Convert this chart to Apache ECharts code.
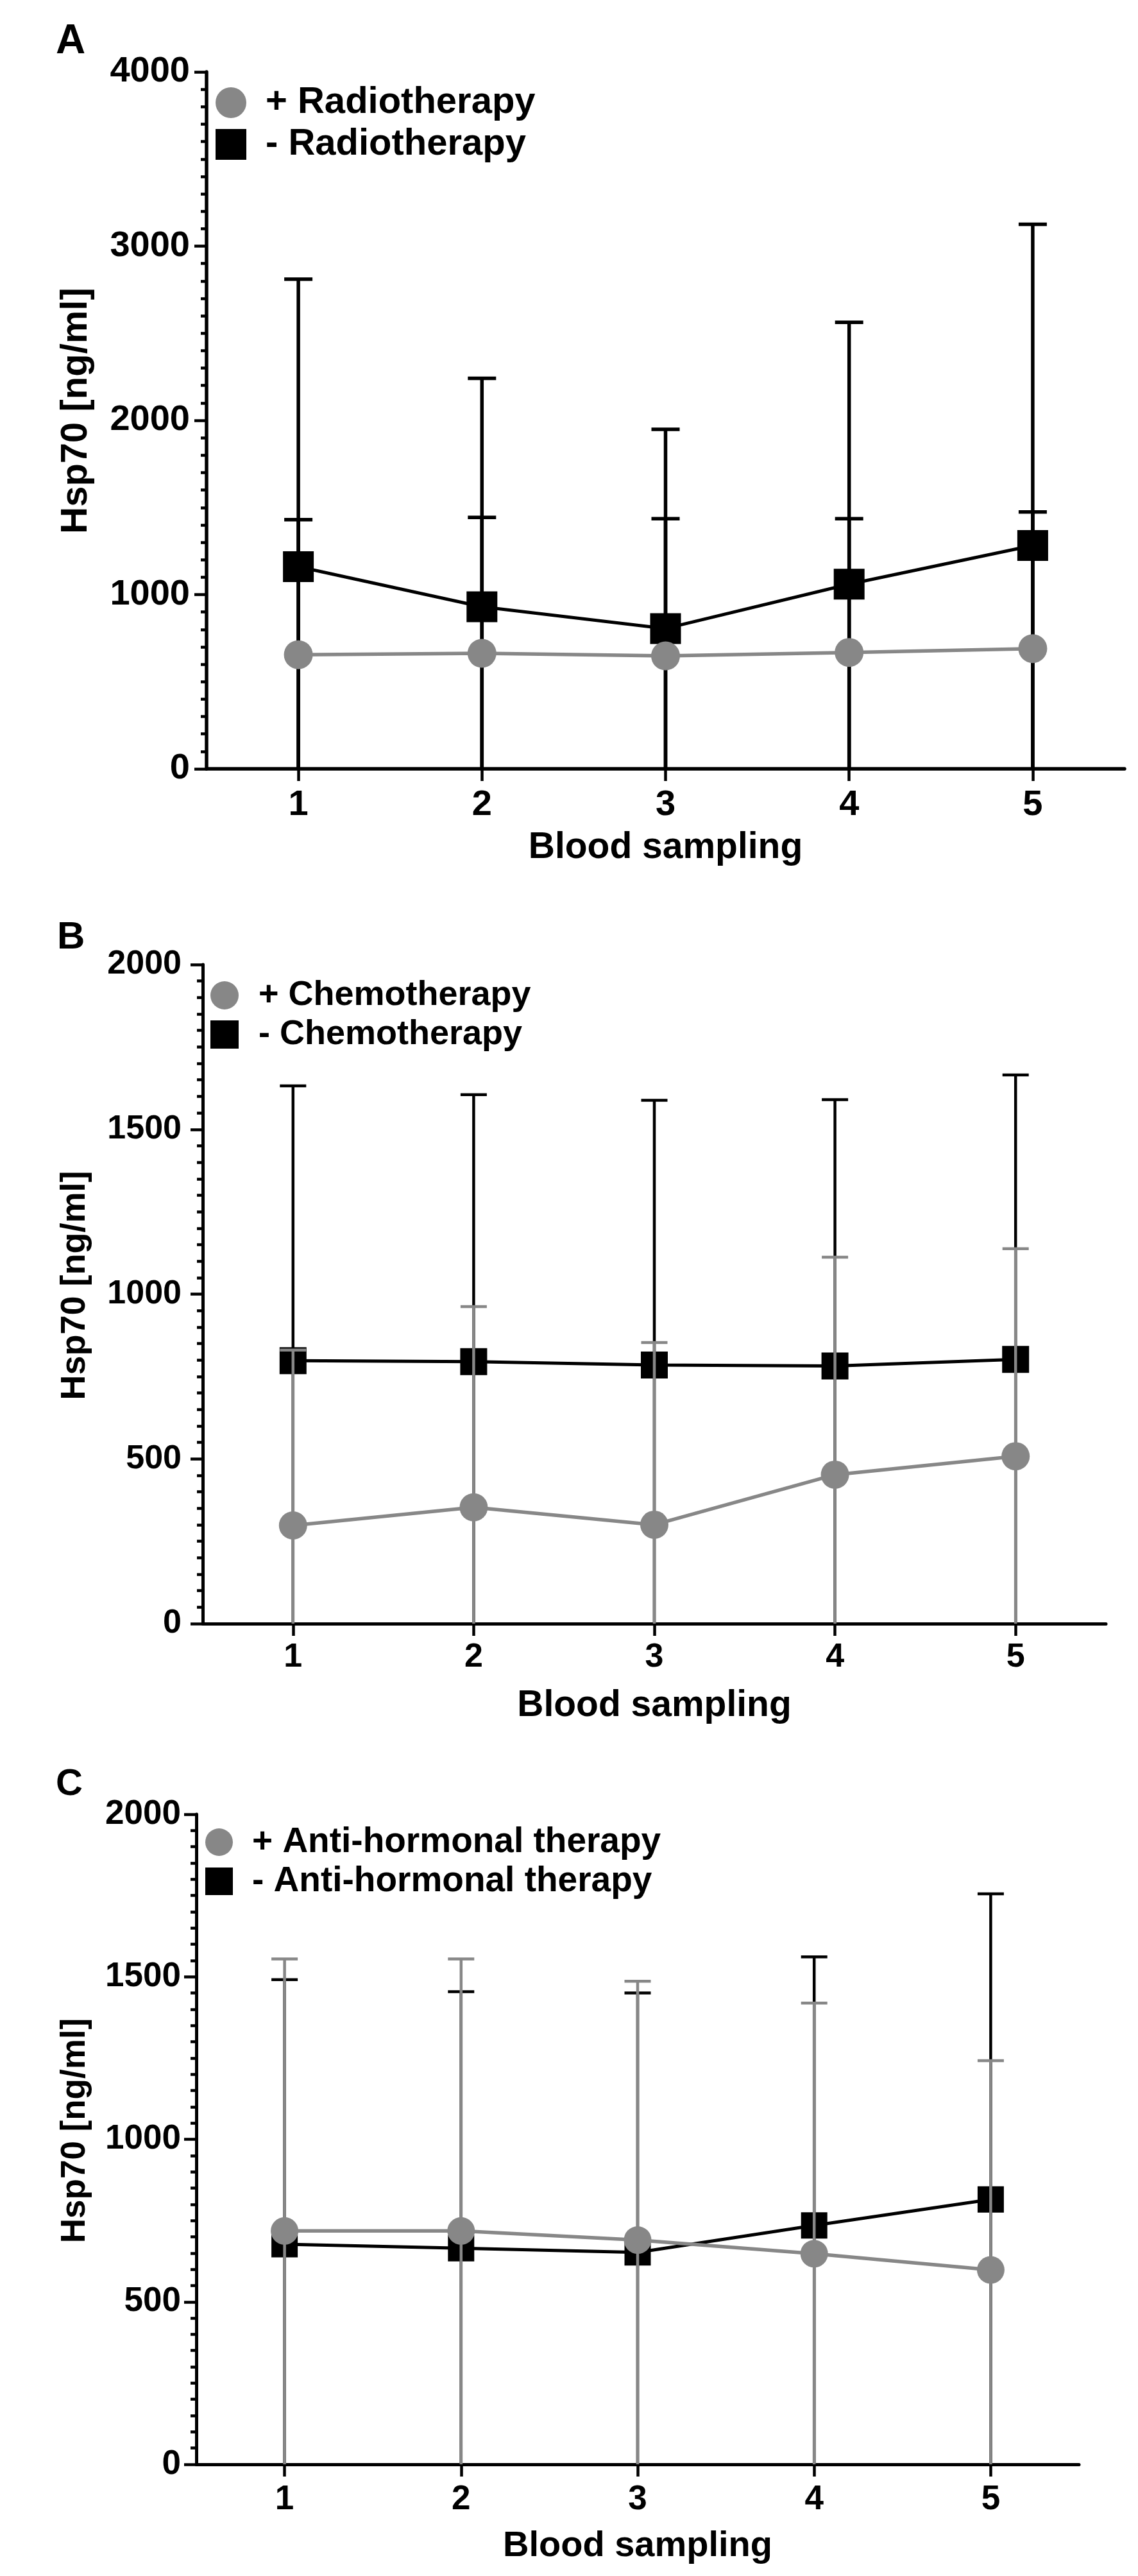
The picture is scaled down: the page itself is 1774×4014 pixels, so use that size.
<!DOCTYPE html>
<html>
<head>
<meta charset="utf-8">
<script src="https://cdn.jsdelivr.net/npm/echarts@6/dist/echarts.min.js"></script>
<style>
html,body{margin:0;padding:0;background:#fff;}
#c{width:1774px;height:4014px;}
</style>
</head>
<body>
<div id="c"></div>
<script>
// ---------------- data ----------------
const categories = ['1', '2', '3', '4', '5'];
const xAxisTitle = 'Blood sampling';
const yAxisTitle = 'Hsp70 [ng/ml]';
const panelLetters = ['A', 'B', 'C'];

const yTicksA = [0, 1000, 2000, 3000, 4000];
const yTicksBC = [0, 500, 1000, 1500, 2000];

// Panel A
const radPlusName = '+ Radiotherapy';
const radMinusName = '- Radiotherapy';
const radPlusMean = [655, 663, 648, 668, 690];
const radPlusSD = [775, 780, 788, 768, 784];
const radMinusMean = [1160, 930, 805, 1060, 1282];
const radMinusSD = [1650, 1311, 1143, 1503, 1843];

// Panel B
const chemoPlusName = '+ Chemotherapy';
const chemoMinusName = '- Chemotherapy';
const chemoPlusMean = [298, 353, 300, 452, 508];
const chemoPlusSD = [532, 609, 553, 660, 630];
const chemoMinusMean = [798, 795, 785, 782, 802];
const chemoMinusSD = [834, 810, 803, 808, 863];

// Panel C
const hormPlusName = '+ Anti-hormonal therapy';
const hormMinusName = '- Anti-hormonal therapy';
const hormPlusMean = [718, 718, 690, 648, 598];
const hormPlusSD = [837, 837, 796, 771, 644];
const hormMinusMean = [677, 665, 652, 735, 815];
const hormMinusSD = [814, 789, 798, 826, 940];

// ---------------- styles / layout ----------------
const FONT = "'Liberation Sans', Arial, Helvetica, sans-serif";
const GRAY = '#878787';
const BLACK = '#000000';

const panels = [
  {
    grid: {left: 322, top: 112, width: 1431, height: 1086},
    yTicks: yTicksA,
    plus: {name: radPlusName, mean: radPlusMean, sd: radPlusSD, barColor: BLACK},
    minus: {name: radMinusName, mean: radMinusMean, sd: radMinusSD},
    circleSize: 45, squareSize: 48, lineW: 5, barW: 5.5, capW: 44,
    axisW: 5.5, tickFont: 56, yLabelMargin: 26, xLabelMargin: 29,
    xNameFont: 57, xNameGap: 95,
    legend: {left: 336, top: 131, item: 48, gap: 7, font: 58, pad: 25},
    letter: {x: 87, y: 65, size: 64},
    yTitle: {x: 119, y: 640, size: 58}
  },
  {
    grid: {left: 316, top: 1503, width: 1408, height: 1027},
    yTicks: yTicksBC,
    plus: {name: chemoPlusName, mean: chemoPlusMean, sd: chemoPlusSD, barColor: GRAY},
    minus: {name: chemoMinusName, mean: chemoMinusMean, sd: chemoMinusSD},
    circleSize: 44, squareSize: 42, lineW: 5, barW: 4.5, capW: 41,
    axisW: 5, tickFont: 52, yLabelMargin: 33, xLabelMargin: 27,
    xNameFont: 57, xNameGap: 100,
    legend: {left: 328, top: 1524, item: 44, gap: 7, font: 54, pad: 26},
    letter: {x: 89, y: 1461, size: 60},
    yTitle: {x: 117, y: 2003, size: 54}
  },
  {
    grid: {left: 306, top: 2827, width: 1376, height: 1013},
    yTicks: yTicksBC,
    plus: {name: hormPlusName, mean: hormPlusMean, sd: hormPlusSD, barColor: GRAY},
    minus: {name: hormMinusName, mean: hormMinusMean, sd: hormMinusSD},
    circleSize: 43, squareSize: 41, lineW: 5, barW: 4.5, capW: 41,
    axisW: 5, tickFont: 53, yLabelMargin: 24, xLabelMargin: 29,
    xNameFont: 56, xNameGap: 100,
    legend: {left: 320, top: 2843, item: 43, gap: 6, font: 55, pad: 25},
    letter: {x: 87, y: 2781, size: 58},
    yTitle: {x: 117, y: 3320, size: 53}
  }
];

function errRender(capW, color, lw, yMin) {
  return function (params, api) {
    const i = api.value(0), m = api.value(1), sd = api.value(2);
    const hi = api.coord([i, m + sd]);
    const lo = api.coord([i, Math.max(yMin, m - sd)]);
    const style = {stroke: color, lineWidth: lw, lineCap: 'butt'};
    const children = [
      {type: 'line', shape: {x1: hi[0], y1: hi[1], x2: lo[0], y2: lo[1]}, style: style},
      {type: 'line', shape: {x1: hi[0] - capW / 2, y1: hi[1], x2: hi[0] + capW / 2, y2: hi[1]}, style: style}
    ];
    if (m - sd >= yMin) {
      children.push({type: 'line', shape: {x1: lo[0] - capW / 2, y1: lo[1], x2: lo[0] + capW / 2, y2: lo[1]}, style: style});
    }
    return {type: 'group', children: children};
  };
}

const option = {
  animation: false,
  backgroundColor: '#ffffff',
  grid: [], xAxis: [], yAxis: [], series: [], legend: [], graphic: []
};

panels.forEach(function (p, k) {
  option.grid.push(Object.assign({containLabel: false}, p.grid));
  option.xAxis.push({
    gridIndex: k,
    type: 'category',
    data: categories,
    boundaryGap: true,
    name: xAxisTitle,
    nameLocation: 'middle',
    nameGap: p.xNameGap,
    nameTextStyle: {fontFamily: FONT, fontWeight: 'bold', fontSize: p.xNameFont, color: BLACK},
    axisLine: {show: true, lineStyle: {color: BLACK, width: p.axisW}},
    axisTick: {show: true, alignWithLabel: true, inside: false, length: 19, lineStyle: {color: BLACK, width: 4.5}},
    axisLabel: {fontFamily: FONT, fontWeight: 'bold', fontSize: p.tickFont, color: BLACK, margin: p.xLabelMargin},
    splitLine: {show: false}
  });
  const yMax = p.yTicks[p.yTicks.length - 1];
  const yInt = p.yTicks[1] - p.yTicks[0];
  option.yAxis.push({
    gridIndex: k,
    type: 'value',
    min: p.yTicks[0],
    max: yMax,
    interval: yInt,
    axisLine: {show: true, lineStyle: {color: BLACK, width: p.axisW}},
    axisTick: {show: true, inside: false, length: 19, lineStyle: {color: BLACK, width: 4.5}},
    minorTick: {show: true, splitNumber: 10, length: 9, lineStyle: {color: BLACK, width: 4.5}},
    axisLabel: {
      fontFamily: FONT, fontWeight: 'bold', fontSize: p.tickFont, color: BLACK, margin: p.yLabelMargin,
      formatter: function (v) { return String(v); }
    },
    splitLine: {show: false},
    minorSplitLine: {show: false}
  });

  const minusBars = p.minus.mean.map(function (m, i) { return [categories[i], m, p.minus.sd[i]]; });
  const plusBars = p.plus.mean.map(function (m, i) { return [categories[i], m, p.plus.sd[i]]; });

  option.series.push({
    type: 'custom', xAxisIndex: k, yAxisIndex: k, z: 2,
    renderItem: errRender(p.capW, BLACK, p.barW, p.yTicks[0]),
    encode: {x: 0, y: 1},
    data: minusBars, silent: true
  });
  option.series.push({
    type: 'line', name: p.minus.name, xAxisIndex: k, yAxisIndex: k, z: 3,
    data: p.minus.mean,
    symbol: 'rect', symbolSize: p.squareSize, showSymbol: true,
    lineStyle: {color: BLACK, width: p.lineW},
    itemStyle: {color: BLACK, opacity: 1},
    silent: true
  });
  option.series.push({
    type: 'custom', xAxisIndex: k, yAxisIndex: k, z: 4,
    renderItem: errRender(p.capW, p.plus.barColor, p.barW, p.yTicks[0]),
    encode: {x: 0, y: 1},
    data: plusBars, silent: true
  });
  option.series.push({
    type: 'line', name: p.plus.name, xAxisIndex: k, yAxisIndex: k, z: 5,
    data: p.plus.mean,
    symbol: 'circle', symbolSize: p.circleSize, showSymbol: true,
    lineStyle: {color: GRAY, width: p.lineW + 0.5},
    itemStyle: {color: GRAY, opacity: 1},
    silent: true
  });

  option.legend.push({
    orient: 'vertical',
    left: p.legend.left,
    top: p.legend.top,
    padding: 0,
    itemWidth: p.legend.item,
    itemHeight: p.legend.item,
    itemGap: p.legend.gap,
    selectedMode: false,
    textStyle: {
      fontFamily: FONT, fontWeight: 'bold', fontSize: p.legend.font, color: BLACK,
      lineHeight: p.legend.item, padding: [0, 0, 0, p.legend.pad]
    },
    data: [
      {name: p.plus.name, icon: 'circle', itemStyle: {color: GRAY}},
      {name: p.minus.name, icon: 'rect', itemStyle: {color: BLACK}}
    ]
  });

  option.graphic.push({
    type: 'text', x: p.letter.x, y: p.letter.y,
    style: {text: panelLetters[k], fontFamily: FONT, fontWeight: 'bold', fontSize: p.letter.size,
      fill: BLACK, textAlign: 'left', textVerticalAlign: 'middle'}
  });
  option.graphic.push({
    type: 'text', x: p.yTitle.x, y: p.yTitle.y, rotation: Math.PI / 2,
    style: {text: yAxisTitle, fontFamily: FONT, fontWeight: 'bold', fontSize: p.yTitle.size,
      fill: BLACK, textAlign: 'center', textVerticalAlign: 'middle'}
  });
});

const chart = echarts.init(document.getElementById('c'), null, {renderer: 'canvas', width: 1774, height: 4014});
chart.setOption(option);
</script>
</body>
</html>
